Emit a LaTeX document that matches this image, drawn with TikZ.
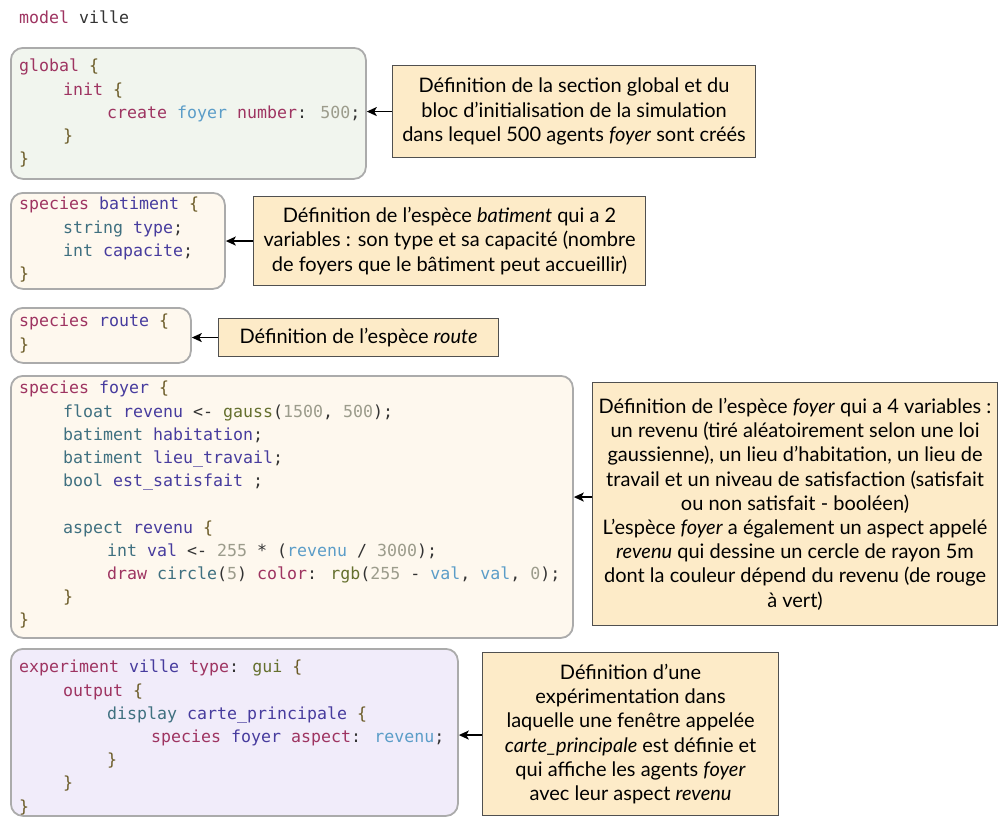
\documentclass[tikz,border=0pt]{standalone}
\usepackage{fontspec}
\setmainfont{Lato}
\newfontfamily\codefont{DejaVu Sans Mono}
\usetikzlibrary{arrows.meta}
\definecolor{ckwc}{HTML}{9E3461}
\definecolor{cidc}{HTML}{473C9E}
\definecolor{ctyc}{HTML}{3F7080}
\definecolor{cfnc}{HTML}{65702E}
\definecolor{cnumc}{HTML}{9C9C8C}
\definecolor{crfc}{HTML}{5B9DC8}
\definecolor{cbrc}{HTML}{6B5B27}
\definecolor{cplain}{HTML}{333333}
\definecolor{gfill}{HTML}{F1F5EE}
\definecolor{sfill}{HTML}{FEF8EE}
\definecolor{efill}{HTML}{F1ECFA}
\definecolor{afill}{HTML}{FDEBC8}
\definecolor{boxline}{HTML}{ABABAB}
\definecolor{annline}{HTML}{505050}
\newcommand{\ckw}[1]{\textcolor{ckwc}{#1}}
\newcommand{\cid}[1]{\textcolor{cidc}{#1}}
\newcommand{\cty}[1]{\textcolor{ctyc}{#1}}
\newcommand{\cfn}[1]{\textcolor{cfnc}{#1}}
\newcommand{\cnum}[1]{\textcolor{cnumc}{#1}}
\newcommand{\crf}[1]{\textcolor{crfc}{#1}}
\newcommand{\cbr}[1]{\textcolor{cbrc}{#1}}
\newcommand{\ia}{\hspace*{44pt}}
\newcommand{\ib}{\hspace*{88pt}}
\newcommand{\ic}{\hspace*{132pt}}
\tikzset{
  codebox/.style={draw=boxline, line width=1.8pt, rounded corners=12pt, anchor=north west, inner sep=0pt},
  codetext/.style={anchor=north west, inner sep=0pt, align=left, text=cplain,
    font=\codefont\fontsize{16.6}{23.2}\selectfont},
  annbox/.style={draw=annline, line width=1.1pt, fill=afill, anchor=north west, inner sep=0pt,
    align=center, font=\fontsize{20}{24.2}\selectfont},
  arr/.style={-{Stealth[length=10pt,width=9pt,inset=2.5pt]}, line width=1.7pt, black}
}
\begin{document}
\begin{tikzpicture}[x=1pt,y=-1pt]
\useasboundingbox (0,0) rectangle (999,819);

\node[codetext] (title) at (19,11) {\ckw{model} ville};

% code boxes
\node[codebox, fill=gfill, minimum width=355pt, minimum height=131pt] (global) at (10,47) {};
\node[codebox, fill=sfill, minimum width=214pt, minimum height=96pt] (batiment) at (10,192) {};
\node[codebox, fill=sfill, minimum width=180pt, minimum height=55pt] (route) at (10,307) {};
\node[codebox, fill=sfill, minimum width=562pt, minimum height=262pt] (foyer) at (10,375) {};
\node[codebox, fill=efill, minimum width=447pt, minimum height=167pt] (exp) at (10,648) {};

\node[codetext] (globaltxt) at (19,59) {\ckw{global} \cbr{\{}\\
\ia\ckw{init} \cbr{\{}\\
\ib\ckw{create} \crf{foyer} \ckw{number}: \cnum{500};\\
\ia\cbr{\}}\\
\cbr{\}}};

\node[codetext] (batimenttxt) at (19,197) {\ckw{species} \cid{batiment} \cbr{\{}\\
\ia\cty{string} \cid{type};\\
\ia\cty{int} \cid{capacite};\\
\cbr{\}}};

\node[codetext] (routetxt) at (19,314) {\ckw{species} \cid{route} \cbr{\{}\\
\cbr{\}}};

\node[codetext] (foyertxt) at (19,381) {\ckw{species} \cid{foyer} \cbr{\{}\\
\ia\cty{float} \cid{revenu} <- \cfn{gauss}(\cnum{1500}, \cnum{500});\\
\ia\cty{batiment} \cid{habitation};\\
\ia\cty{batiment} \cid{lieu\_travail};\\
\ia\cty{bool} \cid{est\_satisfait} ;\\
\mbox{}\\
\ia\cty{aspect} \cid{revenu} \cbr{\{}\\
\ib\cty{int} \cid{val} <- \cnum{255} * (\crf{revenu} / \cnum{3000});\\
\ib\ckw{draw} \cty{circle}(\cnum{5}) \ckw{color}: \cfn{rgb}(\cnum{255} - \crf{val}, \crf{val}, \cnum{0});\\
\ia\cbr{\}}\\
\cbr{\}}};

\node[codetext] (exptxt) at (19,660) {\ckw{experiment} \cid{ville} \ckw{type}: \cfn{gui} \cbr{\{}\\
\ia\ckw{output} \cbr{\{}\\
\ib\cty{display} \cid{carte\_principale} \cbr{\{}\\
\ic\ckw{species} \cid{foyer} \ckw{aspect}: \crf{revenu};\\
\ib\cbr{\}}\\
\ia\cbr{\}}\\
\cbr{\}}};

% annotations
\node[annbox, minimum width=363pt, minimum height=92pt] (ann1) at (392,65)
{Définition de la section global et du\\bloc d’initialisation de la simulation\\dans lequel 500 agents \textit{foyer} sont créés};
\node[annbox, minimum width=392pt, minimum height=89pt] (ann2) at (253,196)
{Définition de l’espèce \textit{batiment} qui a 2\\variables : son type et sa capacité (nombre\\de foyers que le bâtiment peut accueillir)};
\node[annbox, minimum width=280pt, minimum height=38pt] (ann3) at (218,318)
{Définition de l’espèce \textit{route}};
\node[annbox, minimum width=405pt, minimum height=243pt] (ann4) at (592,382)
{Définition de l’espèce \textit{foyer} qui a 4 variables :\\un revenu (tiré aléatoirement selon une loi\\gaussienne), un lieu d’habitation, un lieu de\\travail et un niveau de satisfaction (satisfait\\ou non satisfait - booléen)\\L’espèce \textit{foyer} a également un aspect appelé\\\textit{revenu} qui dessine un cercle de rayon 5m\\dont la couleur dépend du revenu (de rouge\\à vert)};
\node[annbox, minimum width=296pt, minimum height=163pt] (ann5) at (482,652)
{Définition d’une\\expérimentation dans\\laquelle une fenêtre appelée\\\textit{carte\_principale} est définie et\\qui affiche les agents \textit{foyer}\\avec leur aspect \textit{revenu}};

% connectors
\draw[arr] (ann1.west) -- (ann1.west -| global.east);
\draw[arr] (ann2.west) -- (ann2.west -| batiment.east);
\draw[arr] (ann3.west) -- (ann3.west -| route.east);
\draw[arr] ([yshift=7pt]ann4.west) -- ([yshift=7pt]ann4.west -| foyer.east);
\draw[arr] ([yshift=-1pt]ann5.west) -- ([yshift=-1pt]ann5.west -| exp.east);
\end{tikzpicture}
\end{document}
